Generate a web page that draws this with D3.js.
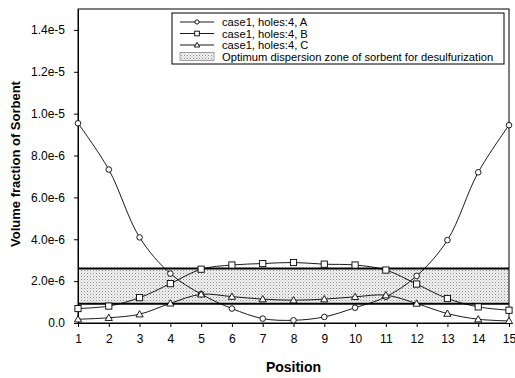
<!DOCTYPE html>
<html>
<head>
<meta charset="utf-8">
<script src="https://cdn.jsdelivr.net/npm/d3@7"></script>
<style>
  body { margin: 0; background: #fff; }
  text { font-family: "Liberation Sans", Arial, sans-serif; }
</style>
</head>
<body>
<div id="chart"></div>
<script>
// data
var positions = [1, 2, 3, 4, 5, 6, 7, 8, 9, 10, 11, 12, 13, 14, 15];
var caseA = [9.54e-6, 7.33e-6, 4.09e-6, 2.36e-6, 1.38e-6, 0.69e-6, 0.21e-6, 0.13e-6, 0.29e-6, 0.73e-6, 1.25e-6, 2.25e-6, 3.96e-6, 7.2e-6, 9.45e-6];
var caseB = [0.69e-6, 0.81e-6, 1.21e-6, 1.88e-6, 2.57e-6, 2.77e-6, 2.84e-6, 2.89e-6, 2.81e-6, 2.77e-6, 2.53e-6, 1.86e-6, 1.17e-6, 0.77e-6, 0.61e-6];
var caseC = [0.18e-6, 0.25e-6, 0.42e-6, 0.94e-6, 1.37e-6, 1.26e-6, 1.14e-6, 1.09e-6, 1.14e-6, 1.25e-6, 1.33e-6, 0.93e-6, 0.45e-6, 0.18e-6, 0.1e-6];
var zone = [0.92e-6, 2.6e-6];
var yTicks = [0, 2e-6, 4e-6, 6e-6, 8e-6, 1e-5, 1.2e-5, 1.4e-5];
var yTickLabels = ["0.0", "2.0e-6", "4.0e-6", "6.0e-6", "8.0e-6", "1.0e-5", "1.2e-5", "1.4e-5"];
var legendLabels = ["case1, holes:4, A", "case1, holes:4, B", "case1, holes:4, C",
  "Optimum dispersion zone of sorbent for desulfurization"];

var svgWidth = 515;
var svgHeight = 378;
var margin = { top: 9, right: 6, bottom: 55, left: 78 };
var width = svgWidth - margin.left - margin.right;
var height = svgHeight - margin.top - margin.bottom;

var svg = d3.select("#chart")
  .append("svg")
  .attr("width", svgWidth)
  .attr("height", svgHeight);

// stipple pattern for the zone
var defs = svg.append("defs");
var pat = defs.append("pattern")
  .attr("id", "dots")
  .attr("width", 3)
  .attr("height", 3)
  .attr("patternUnits", "userSpaceOnUse");
pat.append("rect").attr("width", 3).attr("height", 3).attr("fill", "#f2f2f2");
pat.append("rect").attr("x", 0).attr("y", 0).attr("width", 1).attr("height", 1).attr("fill", "#8a8a8a");
pat.append("rect").attr("x", 1.5).attr("y", 1.5).attr("width", 1).attr("height", 1).attr("fill", "#b5b5b5");

var chartGroup = svg.append("g")
  .attr("transform", `translate(${margin.left}, ${margin.top})`);

var x = d3.scaleLinear().domain([1, 15]).range([0, width]);
var y = d3.scaleLinear().domain([0, 1.5e-5]).range([height, 0]);

// zone
chartGroup.append("rect")
  .attr("x", 0)
  .attr("y", y(zone[1]))
  .attr("width", width)
  .attr("height", y(zone[0]) - y(zone[1]))
  .attr("fill", "url(#dots)");
zone.forEach(function(v) {
  chartGroup.append("line")
    .attr("x1", 0).attr("x2", width)
    .attr("y1", y(v)).attr("y2", y(v))
    .attr("stroke", "#000")
    .attr("stroke-width", 2);
});

// frame
chartGroup.append("rect")
  .attr("width", width)
  .attr("height", height)
  .attr("fill", "none")
  .attr("stroke", "#000")
  .attr("stroke-width", 1);

// axes
var bottomAxis = d3.axisBottom(x).tickValues(positions).tickFormat(d3.format("d")).tickSize(4).tickSizeOuter(0);
var leftAxis = d3.axisLeft(y).tickValues(yTicks)
  .tickFormat(function(d, i) { return yTickLabels[i]; })
  .tickSize(4).tickSizeOuter(0);

var xg = chartGroup.append("g")
  .attr("transform", `translate(0, ${height})`)
  .call(bottomAxis);
xg.selectAll("text").attr("font-size", 12).attr("dy", "1.05em").attr("fill", "#000");

var yg = chartGroup.append("g").call(leftAxis);
yg.selectAll("text").attr("font-size", 12).attr("dx", "-0.5em").attr("fill", "#000");
chartGroup.selectAll(".domain").attr("stroke", "#000");

// series
var series = [
  { values: caseA, shape: "circle" },
  { values: caseB, shape: "square" },
  { values: caseC, shape: "triangle" }
];

var line = d3.line()
  .x(function(d, i) { return x(positions[i]); })
  .y(function(d) { return y(d); })
  .curve(d3.curveCatmullRom.alpha(0.5));

function drawMarker(g, shape, cx, cy, k) {
  k = k || 1;
  if (shape == "circle") {
    g.append("circle").attr("cx", cx).attr("cy", cy).attr("r", 2.8 * k)
      .attr("fill", "#fff").attr("stroke", "#000").attr("stroke-width", 0.9);
  } else if (shape == "square") {
    var h = 3.1 * k;
    g.append("rect").attr("x", cx - h).attr("y", cy - h).attr("width", 2 * h).attr("height", 2 * h)
      .attr("fill", "#fff").attr("stroke", "#000").attr("stroke-width", 0.9);
  } else {
    var t = 3.6 * k;
    g.append("path").attr("d", `M${cx},${cy - t}L${cx + t},${cy + t * 0.75}L${cx - t},${cy + t * 0.75}Z`)
      .attr("fill", "#fff").attr("stroke", "#000").attr("stroke-width", 0.9);
  }
}

series.forEach(function(s) {
  chartGroup.append("path")
    .datum(s.values)
    .attr("d", line)
    .attr("fill", "none")
    .attr("stroke", "#000")
    .attr("stroke-width", 0.9);
});
series.forEach(function(s) {
  var g = chartGroup.append("g");
  s.values.forEach(function(v, i) {
    drawMarker(g, s.shape, x(positions[i]), y(v));
  });
});

// axis titles
chartGroup.append("text")
  .attr("transform", "rotate(-90)")
  .attr("x", 0 - (height / 2) + 2)
  .attr("y", 0 - margin.left + 20)
  .attr("text-anchor", "middle")
  .attr("font-size", 13)
  .attr("font-weight", "bold")
  .text("Volume fraction of Sorbent");

chartGroup.append("text")
  .attr("x", x(8))
  .attr("y", height + 49)
  .attr("text-anchor", "middle")
  .attr("font-size", 14)
  .attr("font-weight", "bold")
  .text("Position");

// legend
var legend = svg.append("g").attr("transform", "translate(172, 13)");
legend.append("rect")
  .attr("width", 332)
  .attr("height", 51)
  .attr("fill", "#fff")
  .attr("stroke", "#000")
  .attr("stroke-width", 1);

series.forEach(function(s, i) {
  var ly = 9 + i * 11.5;
  legend.append("line")
    .attr("x1", 8).attr("x2", 42)
    .attr("y1", ly).attr("y2", ly)
    .attr("stroke", "#000").attr("stroke-width", 0.9);
  drawMarker(legend, s.shape, 25, ly, 0.75);
  legend.append("text")
    .attr("x", 50).attr("y", ly + 4)
    .attr("font-size", 11.2)
    .text(legendLabels[i]);
});
var zy = 9 + 3 * 11.5;
legend.append("rect")
  .attr("x", 8).attr("y", zy - 4)
  .attr("width", 34).attr("height", 8)
  .attr("fill", "url(#dots)")
  .attr("stroke", "#555").attr("stroke-width", 0.5);
legend.append("text")
  .attr("x", 50).attr("y", zy + 4)
  .attr("font-size", 11.2)
  .text(legendLabels[3]);
</script>
</body>
</html>
